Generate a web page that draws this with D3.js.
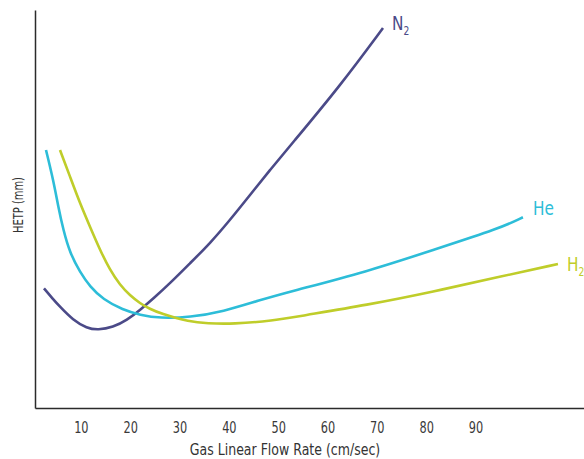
<!DOCTYPE html>
<html>
<head>
<meta charset="utf-8">
<script src="https://cdn.jsdelivr.net/npm/d3@7"></script>
<style>
  body { margin: 0; background: #fff; }
  svg text { font-family: "Liberation Sans Narrow", "DejaVu Sans Condensed", sans-serif; }
</style>
</head>
<body>
<div id="chart"></div>
<script>
// flow rate (cm/sec) and HETP (arbitrary mm units)
var n2Flow = [2.52, 4.35, 5.77, 8.40, 11.24, 13.47, 16.51, 19.35, 21.99, 24.82, 28.07, 32.12, 36.18, 40.23, 44.29, 48.34, 52.39, 62.53, 71.25];
var n2Hetp = [12.03, 10.95, 10.18, 8.84, 8.01, 7.84, 8.11, 8.84, 9.85, 11.06, 12.53, 14.54, 16.55, 18.89, 21.41, 23.92, 26.33, 32.36, 38.19];

var heFlow = [2.93, 4.41, 5.42, 6.44, 7.80, 9.82, 11.85, 14.48, 18.54, 21.99, 26.04, 32.12, 38.81, 46.31, 52.39, 68.00, 81.38, 94.96, 99.62];
var heHetp = [25.93, 22.91, 20.23, 17.89, 15.55, 13.67, 12.19, 10.92, 9.85, 9.35, 9.02, 9.12, 9.68, 10.85, 11.69, 13.70, 15.88, 18.06, 19.17];

var h2Flow = [5.77, 7.80, 9.82, 11.85, 13.88, 15.90, 17.93, 19.96, 21.99, 24.01, 26.04, 32.12, 35.57, 40.84, 48.95, 54.42, 68.00, 81.38, 94.96, 106.72];
var h2Hetp = [25.93, 23.25, 20.57, 18.22, 15.88, 13.87, 12.36, 11.31, 10.52, 9.95, 9.52, 8.64, 8.51, 8.44, 8.77, 9.25, 10.35, 11.68, 13.20, 14.47];

var xTicks = [10, 20, 30, 40, 50, 60, 70, 80, 90];

var width = 584, height = 459;

var svg = d3.select("#chart").append("svg")
    .attr("width", width)
    .attr("height", height);

var x = d3.scaleLinear().domain([0.7, 112]).range([35, 584]);
var y = d3.scaleLinear().domain([0, 40]).range([408, 10]);

// axes
svg.append("g")
    .attr("class", "x axis")
    .attr("transform", "translate(0,408)")
    .call(d3.axisBottom(x).tickValues(xTicks).tickSize(0).tickSizeOuter(0).tickPadding(14))
    .call(function(g) {
      g.select(".domain").attr("stroke", "#2b2b2b").attr("stroke-width", 1.5);
      g.selectAll("text").attr("font-size", 15).attr("fill", "#3a3a3a")
        .attr("transform", "scale(0.84,1)")
        .attr("font-family", "'Liberation Sans Narrow', 'DejaVu Sans Condensed', sans-serif");
    });

svg.append("g")
    .attr("class", "y axis")
    .attr("transform", "translate(35,0)")
    .call(d3.axisLeft(y).ticks(0).tickSizeOuter(0))
    .call(function(g) {
      g.select(".domain").attr("stroke", "#2b2b2b").attr("stroke-width", 1.5);
    });

svg.append("text")
    .attr("transform", "translate(285,455) scale(0.93,1)")
    .attr("text-anchor", "middle")
    .attr("font-size", 15)
    .attr("fill", "#333")
    .text("Gas Linear Flow Rate (cm/sec)");

svg.append("text")
    .attr("transform", "translate(22.5,205) rotate(-90) scale(0.76,1)")
    .attr("text-anchor", "middle")
    .attr("font-size", 14.5)
    .attr("fill", "#333")
    .text("HETP (mm)");

// curves
var series = [
  {name: "N", sub: "2", flow: n2Flow, hetp: n2Hetp, color: "#4b4a88", lx: 392, ly: 30},
  {name: "He", sub: "", flow: heFlow, hetp: heHetp, color: "#2dbdd8", lx: 533, ly: 215},
  {name: "H", sub: "2", flow: h2Flow, hetp: h2Hetp, color: "#bfcd2a", lx: 567, ly: 271}
];

var line = d3.line()
    .x(function(d) { return x(d[0]); })
    .y(function(d) { return y(d[1]); })
    .curve(d3.curveBasis);

series.forEach(function(s) {
  var pts = d3.zip(s.flow, s.hetp);
  svg.append("path")
      .datum(pts)
      .attr("fill", "none")
      .attr("stroke", s.color)
      .attr("stroke-width", 2.6)
      .attr("d", line);

  var t = svg.append("text")
      .attr("transform", "translate(" + s.lx + "," + s.ly + ") scale(0.85,1)")
      .attr("font-size", 20)
      .attr("fill", s.color)
      .text(s.name);
  if (s.sub) {
    t.append("tspan")
      .attr("dy", 5)
      .attr("font-size", 12)
      .text(s.sub);
  }
});
</script>
</body>
</html>
